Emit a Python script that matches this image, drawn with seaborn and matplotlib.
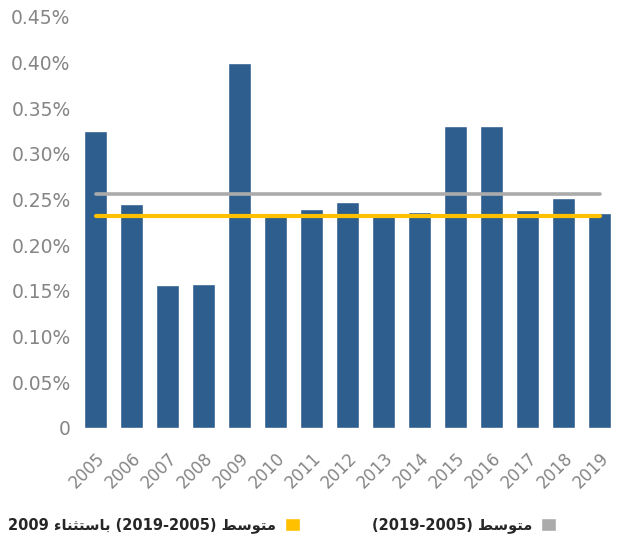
import numpy as np
import matplotlib
matplotlib.use("Agg")
import matplotlib.pyplot as plt
from matplotlib.patches import Patch
import seaborn as sns

# --- data (values in %) ---
years = ["2005", "2006", "2007", "2008", "2009", "2010", "2011", "2012",
         "2013", "2014", "2015", "2016", "2017", "2018", "2019"]
values = [0.325, 0.245, 0.157, 0.158, 0.400, 0.235, 0.240, 0.247,
          0.234, 0.237, 0.331, 0.331, 0.239, 0.252, 0.235]
avg_all = 0.256       # average 2005-2019
avg_ex_2009 = 0.232   # average 2005-2019 excluding 2009
y_ticks = [0, 0.05, 0.10, 0.15, 0.20, 0.25, 0.30, 0.35, 0.40, 0.45]
y_tick_labels = ["0", "0.05%", "0.10%", "0.15%", "0.20%", "0.25%",
                 "0.30%", "0.35%", "0.40%", "0.45%"]

# legend texts (Arabic, in presentation forms / visual order so they shape correctly)
mutawassit = "\uFEC2\uFEB3\uFEEE\uFE98\uFEE3"                    # متوسط
bistithna = "\uFE80\uFE8E\uFEE8\uFE9C\uFE98\uFEB3\uFE8E\uFE91"     # باستثناء
label_all = "(2019-2005) " + mutawassit
label_ex = "2009 " + bistithna + " (2019-2005) " + mutawassit

bar_color = "#2e5e8e"
gray = "#ababab"
yellow = "#ffc000"
tick_color = "#858585"

sns.set_style("white")
plt.rcParams["font.family"] = ["DejaVu Sans"]

fig = plt.figure(figsize=(6.2, 5.48), dpi=100)
ax = fig.add_axes([0.125, 0.219, 0.871, 0.75])

sns.barplot(x=years, y=values, color=bar_color, width=0.62,
            saturation=1, ax=ax)

pos = np.arange(len(years))
ax.plot(pos, [avg_all] * len(years), color=gray, lw=2.6, zorder=3)
ax.plot(pos, [avg_ex_2009] * len(years), color=yellow, lw=3, zorder=4)

ax.set_ylim(0, 0.45)
ax.set_xlim(-0.5, len(years) - 0.5)
ax.set_yticks(y_ticks)
ax.set_yticklabels(y_tick_labels, fontsize=13.5, color=tick_color)
ax.set_xticks(pos)
ax.set_xticklabels(years, rotation=45, ha="right", rotation_mode="anchor",
                   fontsize=12, color=tick_color)
ax.tick_params(axis="both", length=0)
ax.tick_params(axis="y", pad=5)
ax.tick_params(axis="x", pad=15)
ax.set_xlabel("")
ax.set_ylabel("")
sns.despine(ax=ax, left=True, bottom=True)

handles = [Patch(facecolor=yellow, label=label_ex),
           Patch(facecolor=gray, label=label_all)]
fig.legend(handles=handles, ncol=2, markerfirst=False, frameon=False,
           loc="lower left", bbox_to_anchor=(-0.008, 0.003),
           prop={"size": 10.5, "weight": "bold"},
           handlelength=1.05, handleheight=1.05, handletextpad=0.6,
           columnspacing=4.9)

fig.savefig("out.png", dpi=100)
